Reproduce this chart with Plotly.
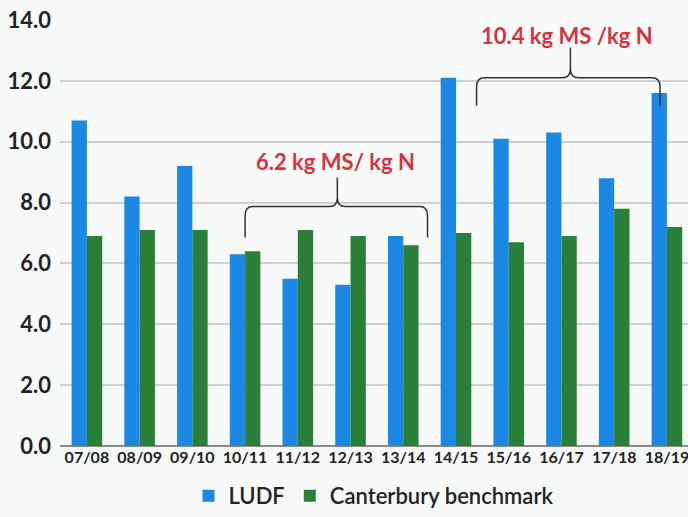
import plotly.graph_objects as go

seasons = ["07/08", "08/09", "09/10", "10/11", "11/12", "12/13", "13/14",
           "14/15", "15/16", "16/17", "17/18", "18/19"]
ludf = [10.7, 8.2, 9.2, 6.3, 5.5, 5.3, 6.9, 12.1, 10.1, 10.3, 8.8, 11.6]
canterbury = [6.9, 7.1, 7.1, 6.4, 7.1, 6.9, 6.6, 7.0, 6.7, 6.9, 7.8, 7.2]

y_ticks = [0, 2, 4, 6, 8, 10, 12, 14]

BLUE = "#1c88e6"
GREEN = "#2a8038"
RED = "#d8323c"
FONT = "Lato"

fig = go.Figure()
fig.add_trace(go.Bar(name="LUDF", x=seasons, y=ludf, marker_color=BLUE,
                     marker_line_width=0))
fig.add_trace(go.Bar(name="Canterbury benchmark", x=seasons, y=canterbury,
                     marker_color=GREEN, marker_line_width=0))


def brace(x0, x1, xc, yb, yh, yp, rx=0.15, ry=0.3):
    """Curly brace opening downward, peak pointing up at xc."""
    return (f"M{x0},{yb} L{x0},{yh - ry} Q{x0},{yh} {x0 + rx},{yh} "
            f"L{xc - rx},{yh} Q{xc},{yh} {xc},{yh + ry} L{xc},{yp} "
            f"M{xc},{yh + ry} Q{xc},{yh} {xc + rx},{yh} "
            f"L{x1 - rx},{yh} Q{x1},{yh} {x1},{yh - ry} L{x1},{yb}")


fig.add_shape(type="path", xref="x", yref="y",
              path=brace(3.0, 6.46, 4.75, 6.85, 7.87, 8.82),
              line=dict(color="#333333", width=1.5))
fig.add_shape(type="path", xref="x", yref="y",
              path=brace(7.39, 10.87, 9.17, 11.18, 12.1, 13.1),
              line=dict(color="#333333", width=1.5))

fig.add_annotation(x=4.72, y=9.34, xref="x", yref="y", text="6.2 kg MS/ kg N",
                   showarrow=False,
                   font=dict(family=FONT, size=22, color=RED, weight="bold"))
fig.add_annotation(x=9.1, y=13.48, xref="x", yref="y", text="10.4 kg MS /kg N",
                   showarrow=False,
                   font=dict(family=FONT, size=22, color=RED, weight="bold"))

fig.update_layout(
    width=688, height=517,
    margin=dict(l=60, r=0, t=20, b=70),
    paper_bgcolor="#f8f9f9",
    plot_bgcolor="#f8f9f9",
    barmode="group",
    bargap=0.42,
    bargroupgap=0,
    showlegend=True,
    legend=dict(orientation="h", x=0.5, xanchor="center", y=-0.117,
                yanchor="middle",
                font=dict(family=FONT, size=22, color="#222222", weight=600),
                bgcolor="rgba(0,0,0,0)"),
    xaxis=dict(range=[-0.51, 11.4], showgrid=False, showline=False,
               ticks="", tickfont=dict(family=FONT, size=16, color="#222222",
                                       weight="bold")),
    yaxis=dict(range=[0, 14], tickvals=y_ticks, tickformat=".1f",
               showgrid=True, gridcolor="#cfcfcf", gridwidth=1.5,
               zeroline=True, zerolinecolor="#8a8a8a", zerolinewidth=2,
               ticks="", ticklabelstandoff=8,
               tickfont=dict(family=FONT, size=22, color="#222222",
                             weight="bold")),
)

fig.write_html("out.html")
